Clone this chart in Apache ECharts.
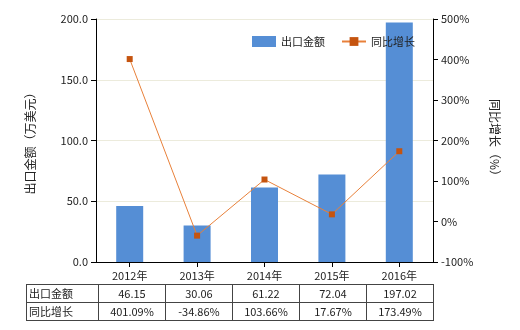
<!DOCTYPE html>
<html><head><meta charset="utf-8">
<script src="https://cdn.jsdelivr.net/npm/echarts@6/dist/echarts.min.js"></script>
<style>
html,body{margin:0;padding:0;background:#fff;}
#c{position:absolute;left:0;top:0;width:520px;height:330px;}
table{position:absolute;left:26px;top:284px;border-collapse:collapse;font-family:"Noto Sans CJK SC",sans-serif;font-size:11px;color:#222;}
td{border:1px solid #444;height:17px;padding:0;text-align:center;width:66px;line-height:17px;}
td.h{width:69px;text-align:left;padding-left:2px;}
</style></head><body>
<div id="c"></div>
<table id="t"></table>
<script>
var categories = ["2012年","2013年","2014年","2015年","2016年"];
var exportValues = [46.15, 30.06, 61.22, 72.04, 197.02];
var growthValues = [401.09, -34.86, 103.66, 17.67, 173.49];
var seriesNames = ["出口金额","同比增长"];

var t = document.getElementById('t');
var r1 = '<tr><td class="h">'+seriesNames[0]+'</td>' + exportValues.map(function(v){return '<td>'+v.toFixed(2)+'</td>';}).join('') + '</tr>';
var r2 = '<tr><td class="h">'+seriesNames[1]+'</td>' + growthValues.map(function(v){return '<td>'+v.toFixed(2)+'%</td>';}).join('') + '</tr>';
t.innerHTML = r1 + r2;

var font = '"Noto Sans CJK SC", sans-serif';
var chart = echarts.init(document.getElementById('c'));
chart.setOption({
  animation:false,
  textStyle:{fontFamily:font},
  grid:{left:96,right:87,top:19,bottom:68},
  legend:{
    top:31,left:247,itemGap:16,itemWidth:24,itemHeight:11,
    textStyle:{fontSize:11,color:'#222',fontFamily:font},
    data:[{name:seriesNames[0],icon:'rect'},{name:seriesNames[1]}]
  },
  xAxis:{
    type:'category',data:categories,
    axisLine:{lineStyle:{color:'#000'}},
    axisTick:{show:true,alignWithLabel:true,lineStyle:{color:'#000'}},
    axisLabel:{color:'#222',fontSize:11,margin:8}
  },
  yAxis:[{
    type:'value',min:0,max:200,interval:50,
    name:'出口金额（万美元）',nameLocation:'middle',nameGap:60,nameRotate:90,
    nameTextStyle:{fontSize:12,color:'#222'},
    axisLine:{show:true,lineStyle:{color:'#000'}},
    axisTick:{show:true,lineStyle:{color:'#000'}},
    axisLabel:{color:'#222',fontSize:11,formatter:function(v){return v.toFixed(1);}},
    splitLine:{lineStyle:{color:'#ecebdc'}}
  },{
    type:'value',min:-100,max:500,interval:100,
    name:'同比增长（%）',nameLocation:'middle',nameGap:56,nameRotate:-90,
    nameTextStyle:{fontSize:12,color:'#222'},
    axisLine:{show:true,lineStyle:{color:'#000'}},
    axisTick:{show:true,lineStyle:{color:'#000'}},
    axisLabel:{color:'#222',fontSize:11,formatter:'{value}%'},
    splitLine:{show:false}
  }],
  series:[{
    name:seriesNames[0],type:'bar',data:exportValues,barWidth:27,
    itemStyle:{color:'#558ed5'}
  },{
    name:seriesNames[1],type:'line',yAxisIndex:1,data:growthValues,
    symbol:'rect',symbolSize:6,
    lineStyle:{color:'#e8803a',width:1},
    itemStyle:{color:'#c5540f'}
  }]
});
</script>
</body></html>
